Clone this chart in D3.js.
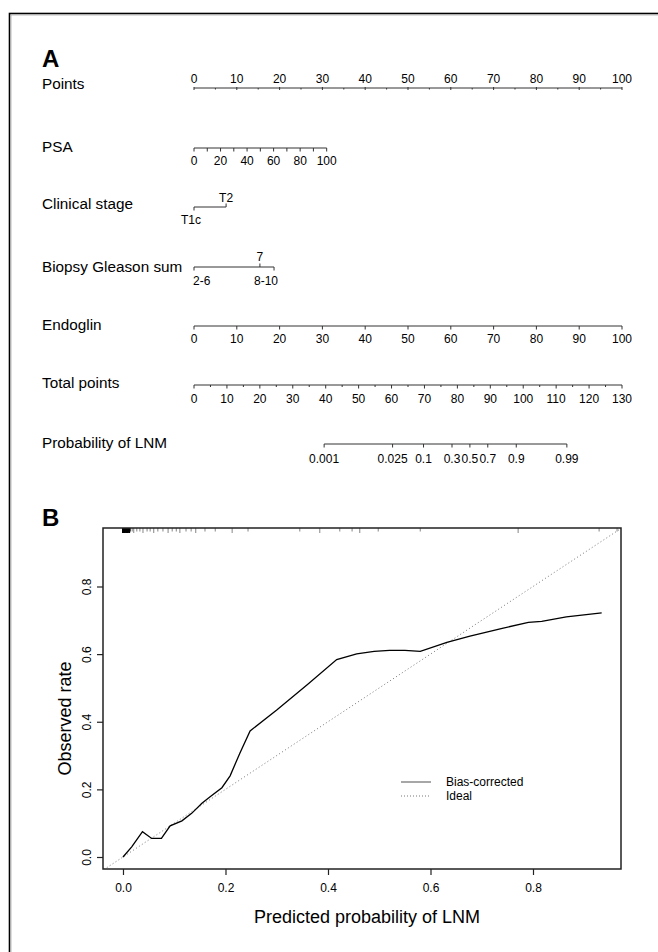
<!DOCTYPE html>
<html>
<head>
<meta charset="utf-8">
<script src="https://cdn.jsdelivr.net/npm/d3@7"></script>
<style>
  body { margin: 0; background: #fff; }
  svg { display: block; font-family: "Liberation Sans", Arial, sans-serif; }
  .var-label { font-size: 15.3px; fill: #000; }
  .tick-label { font-size: 12px; fill: #000; }
</style>
</head>
<body>
<div id="chart"></div>
<script>
  /* ----------------------- Data ----------------------- */
  // Panel A: nomogram
  const pointTicks = [0, 10, 20, 30, 40, 50, 60, 70, 80, 90, 100];
  const pointMinorTicks = [5, 15, 25, 35, 45, 55, 65, 75, 85, 95];

  const psaTicks = [0, 10, 20, 30, 40, 50, 60, 70, 80, 90, 100];
  const psaLabels = [0, 20, 40, 60, 80, 100];
  const psaMaxPoints = 31; // points given to PSA = 100

  const stageCategories = ["T1c", "T2"];
  const stagePoints = [0, 7.5];

  const gleasonCategories = ["2-6", "7", "8-10"];
  const gleasonPoints = [0, 15.4, 18.7];

  const endoglinTicks = [0, 10, 20, 30, 40, 50, 60, 70, 80, 90, 100];
  const endoglinMaxPoints = 100;

  const totalTicks = [0, 10, 20, 30, 40, 50, 60, 70, 80, 90, 100, 110, 120, 130];
  const totalMinorTicks = [5, 15, 25, 35, 45, 55, 65, 75, 85, 95, 105, 115, 125];

  const probTicks = [0.001, 0.025, 0.1, 0.3, 0.5, 0.7, 0.9, 0.99];
  const lpIntercept = 83.8; // total points at probability 0.5
  const lpSlope = 6.41; // total points per logit unit

  // Panel B: calibration curve
  const calPredicted = [0.0, 0.017, 0.038, 0.056, 0.075, 0.092, 0.115, 0.134, 0.154, 0.17,
    0.193, 0.209, 0.228, 0.248, 0.30, 0.36, 0.417, 0.456, 0.49, 0.52, 0.55, 0.58,
    0.632, 0.677, 0.742, 0.791, 0.817, 0.865, 0.934];
  const calObserved = [0.0, 0.03, 0.075, 0.055, 0.055, 0.092, 0.107, 0.129, 0.159, 0.178,
    0.205, 0.24, 0.307, 0.373, 0.435, 0.51, 0.584, 0.601, 0.608, 0.611, 0.611, 0.608,
    0.635, 0.653, 0.677, 0.694, 0.697, 0.71, 0.722];

  const rugValues = [0.0, 0.001, 0.002, 0.003, 0.004, 0.005, 0.006, 0.007, 0.008, 0.009,
    0.01, 0.011, 0.012, 0.013, 0.018, 0.021, 0.027, 0.033, 0.039, 0.047, 0.053, 0.06,
    0.068, 0.078, 0.088, 0.096, 0.104, 0.111, 0.123, 0.133, 0.142, 0.16, 0.18, 0.213,
    0.244, 0.345, 0.384, 0.423, 0.447, 0.462, 0.498, 0.58, 0.771, 0.929, 0.964];

  const calTicks = [0.0, 0.2, 0.4, 0.6, 0.8];

  /* ----------------------- SVG ----------------------- */
  const W = 658, H = 952;
  const svg = d3.select("#chart").append("svg")
    .attr("width", W).attr("height", H)
    .attr("viewBox", `0 0 ${W} ${H}`);

  // outer frame
  svg.append("rect")
    .attr("x", 9.5).attr("y", 13.5)
    .attr("width", 700).attr("height", 1000)
    .attr("fill", "none").attr("stroke", "#000").attr("stroke-width", 1.6);
  svg.append("rect")
    .attr("x", 11).attr("y", 15)
    .attr("width", 700).attr("height", 1000)
    .attr("fill", "none").attr("stroke", "#aaa").attr("stroke-width", 0.8);

  /* ----------------------- Panel A: nomogram ----------------------- */
  const labelX = 42;
  const xPoints = d3.scaleLinear().domain([0, 100]).range([194, 622]);
  const xTotal = d3.scaleLinear().domain([0, 130]).range([194, 622]);
  const logit = (p) => Math.log(p / (1 - p));

  svg.append("text")
    .attr("x", labelX).attr("y", 67)
    .style("font-size", "24px").style("font-weight", "bold")
    .text("A");

  const nomo = svg.append("g").attr("stroke", "#333").attr("stroke-width", 1);

  function varLabel(text, y) {
    svg.append("text").attr("class", "var-label")
      .attr("x", labelX).attr("y", y).text(text);
  }

  function hLine(x1, x2, y) {
    nomo.append("line").attr("x1", x1).attr("x2", x2).attr("y1", y).attr("y2", y);
  }

  function tick(x, y, len) {
    nomo.append("line").attr("x1", x).attr("x2", x).attr("y1", y).attr("y2", y + len);
  }

  function tickLabel(text, x, y, anchor) {
    svg.append("text").attr("class", "tick-label")
      .attr("x", x).attr("y", y)
      .attr("text-anchor", anchor || "middle")
      .text(text);
  }

  // Points
  const yPts = 88;
  varLabel("Points", 89);
  hLine(xPoints(0), xPoints(100), yPts);
  pointTicks.forEach((d) => {
    tick(xPoints(d), yPts - 1, 3);
    tickLabel(d, xPoints(d), 83);
  });
  pointMinorTicks.forEach((d) => tick(xPoints(d), yPts, 1.5));

  // PSA
  const yPsa = 148;
  const psaToPoints = d3.scaleLinear().domain([0, 100]).range([0, psaMaxPoints]);
  varLabel("PSA", 152);
  hLine(xPoints(psaToPoints(0)), xPoints(psaToPoints(100)), yPsa);
  psaTicks.forEach((d) => tick(xPoints(psaToPoints(d)), yPsa, 3.5));
  psaLabels.forEach((d) => tickLabel(d, xPoints(psaToPoints(d)), 165));

  // Clinical stage
  const yStage = 207;
  varLabel("Clinical stage", 209);
  hLine(xPoints(stagePoints[0]), xPoints(stagePoints[1]), yStage);
  tick(xPoints(stagePoints[0]), yStage, 3.5);
  tickLabel(stageCategories[0], xPoints(stagePoints[0]) - 3, 224);
  tick(xPoints(stagePoints[1]), yStage, -3.5);
  tickLabel(stageCategories[1], xPoints(stagePoints[1]), 202);

  // Biopsy Gleason sum
  const yGl = 267;
  varLabel("Biopsy Gleason sum", 272);
  hLine(xPoints(gleasonPoints[0]), xPoints(gleasonPoints[2]), yGl);
  tick(xPoints(gleasonPoints[0]), yGl, 3.5);
  tickLabel(gleasonCategories[0], xPoints(gleasonPoints[0]) - 1, 285, "start");
  tick(xPoints(gleasonPoints[1]), yGl, -3.5);
  tickLabel(gleasonCategories[1], xPoints(gleasonPoints[1]), 261);
  tick(xPoints(gleasonPoints[2]), yGl, 3.5);
  tickLabel(gleasonCategories[2], xPoints(gleasonPoints[2]) + 4, 285, "end");

  // Endoglin
  const yEnd = 326;
  const endToPoints = d3.scaleLinear().domain([0, 100]).range([0, endoglinMaxPoints]);
  varLabel("Endoglin", 330);
  hLine(xPoints(endToPoints(0)), xPoints(endToPoints(100)), yEnd);
  endoglinTicks.forEach((d) => {
    tick(xPoints(endToPoints(d)), yEnd, 3.5);
    tickLabel(d, xPoints(endToPoints(d)), 343);
  });

  // Total points
  const yTot = 385;
  varLabel("Total points", 388);
  hLine(xTotal(0), xTotal(130), yTot);
  totalTicks.forEach((d) => {
    tick(xTotal(d), yTot, 3.5);
    tickLabel(d, xTotal(d), 403);
  });
  totalMinorTicks.forEach((d) => tick(xTotal(d), yTot, 2));

  // Probability of LNM
  const yProb = 444;
  const probToTotal = (p) => lpIntercept + lpSlope * logit(p);
  varLabel("Probability of LNM", 448);
  hLine(xTotal(probToTotal(probTicks[0])), xTotal(probToTotal(probTicks[probTicks.length - 1])), yProb);
  probTicks.forEach((d) => {
    tick(xTotal(probToTotal(d)), yProb, 3.5);
    tickLabel(d, xTotal(probToTotal(d)), 463);
  });

  /* ----------------------- Panel B: calibration ----------------------- */
  const box = { left: 103, right: 621, top: 528, bottom: 869 };
  const x = d3.scaleLinear().domain([-0.039, 0.9717]).range([box.left, box.right]);
  const y = d3.scaleLinear().domain([-0.0355, 0.973]).range([box.bottom, box.top]);

  svg.append("text")
    .attr("x", labelX).attr("y", 526)
    .style("font-size", "24px").style("font-weight", "bold")
    .text("B");

  svg.append("clipPath").attr("id", "plot-clip")
    .append("rect")
    .attr("x", box.left).attr("y", box.top)
    .attr("width", box.right - box.left).attr("height", box.bottom - box.top);

  const plot = svg.append("g").attr("clip-path", "url(#plot-clip)");

  // Ideal line
  plot.append("line")
    .attr("x1", x(-0.1)).attr("y1", y(-0.1))
    .attr("x2", x(1.1)).attr("y2", y(1.1))
    .attr("stroke", "#777").attr("stroke-width", 1)
    .attr("stroke-dasharray", "1,2.5");

  // Bias-corrected curve
  const calData = calPredicted.map((p, i) => [p, calObserved[i]]);
  plot.append("path")
    .datum(calData)
    .attr("fill", "none")
    .attr("stroke", "#000")
    .attr("stroke-width", 1.3)
    .attr("d", d3.line().x((d) => x(d[0])).y((d) => y(d[1])));

  // Rug of predicted probabilities along the top
  plot.selectAll(".rug")
    .data(rugValues)
    .enter()
    .append("line")
    .attr("class", "rug")
    .attr("x1", (d) => x(d)).attr("x2", (d) => x(d))
    .attr("y1", box.top).attr("y2", (d, i) => box.top + (i % 3 === 0 ? 5 : 3.5))
    .attr("stroke", (d) => (d < 0.015 ? "#000" : "#666"))
    .attr("stroke-width", (d) => (d < 0.015 ? 2 : 0.8));

  // Box
  svg.append("rect")
    .attr("x", box.left).attr("y", box.top)
    .attr("width", box.right - box.left).attr("height", box.bottom - box.top)
    .attr("fill", "none").attr("stroke", "#222").attr("stroke-width", 1.5);

  // Axes
  const xAxis = d3.axisBottom(x).tickValues(calTicks).tickFormat(d3.format(".1f"))
    .tickSize(6).tickPadding(8);
  const xAxisGroup = svg.append("g")
    .attr("transform", `translate(0,${box.bottom})`)
    .call(xAxis);
  xAxisGroup.select(".domain").remove();
  xAxisGroup.selectAll(".tick line").attr("stroke", "#222").attr("stroke-width", 1.2);
  xAxisGroup.selectAll(".tick text")
    .style("font-size", "12px").style("font-family", "Liberation Sans, Arial, sans-serif");

  const yAxis = d3.axisLeft(y).tickValues(calTicks).tickFormat(d3.format(".1f"))
    .tickSize(6).tickPadding(0);
  const yAxisGroup = svg.append("g")
    .attr("transform", `translate(${box.left},0)`)
    .call(yAxis);
  yAxisGroup.select(".domain").remove();
  yAxisGroup.selectAll(".tick line").attr("stroke", "#222").attr("stroke-width", 1.2);
  yAxisGroup.selectAll(".tick text")
    .attr("x", null).attr("dy", null)
    .attr("text-anchor", "middle")
    .attr("transform", "translate(-12,0) rotate(-90)")
    .style("font-size", "12px").style("font-family", "Liberation Sans, Arial, sans-serif");

  // Axis titles
  svg.append("text")
    .attr("x", (box.left + box.right) / 2 + 5).attr("y", 923)
    .attr("text-anchor", "middle")
    .style("font-size", "18px")
    .text("Predicted probability of LNM");

  svg.append("text")
    .attr("transform", `translate(71,${(box.top + box.bottom) / 2 + 20}) rotate(-90)`)
    .attr("text-anchor", "middle")
    .style("font-size", "18px")
    .text("Observed rate");

  // Legend
  const legend = svg.append("g").attr("transform", "translate(401,782)");
  legend.append("line")
    .attr("x1", 0).attr("x2", 30).attr("y1", 0).attr("y2", 0)
    .attr("stroke", "#777").attr("stroke-width", 1.3);
  legend.append("line")
    .attr("x1", 0).attr("x2", 30).attr("y1", 14).attr("y2", 14)
    .attr("stroke", "#777").attr("stroke-width", 1)
    .attr("stroke-dasharray", "1,2");
  legend.append("text")
    .attr("x", 45).attr("y", 4)
    .style("font-size", "12px")
    .text("Bias-corrected");
  legend.append("text")
    .attr("x", 45).attr("y", 18)
    .style("font-size", "12px")
    .text("Ideal");
</script>
</body>
</html>
